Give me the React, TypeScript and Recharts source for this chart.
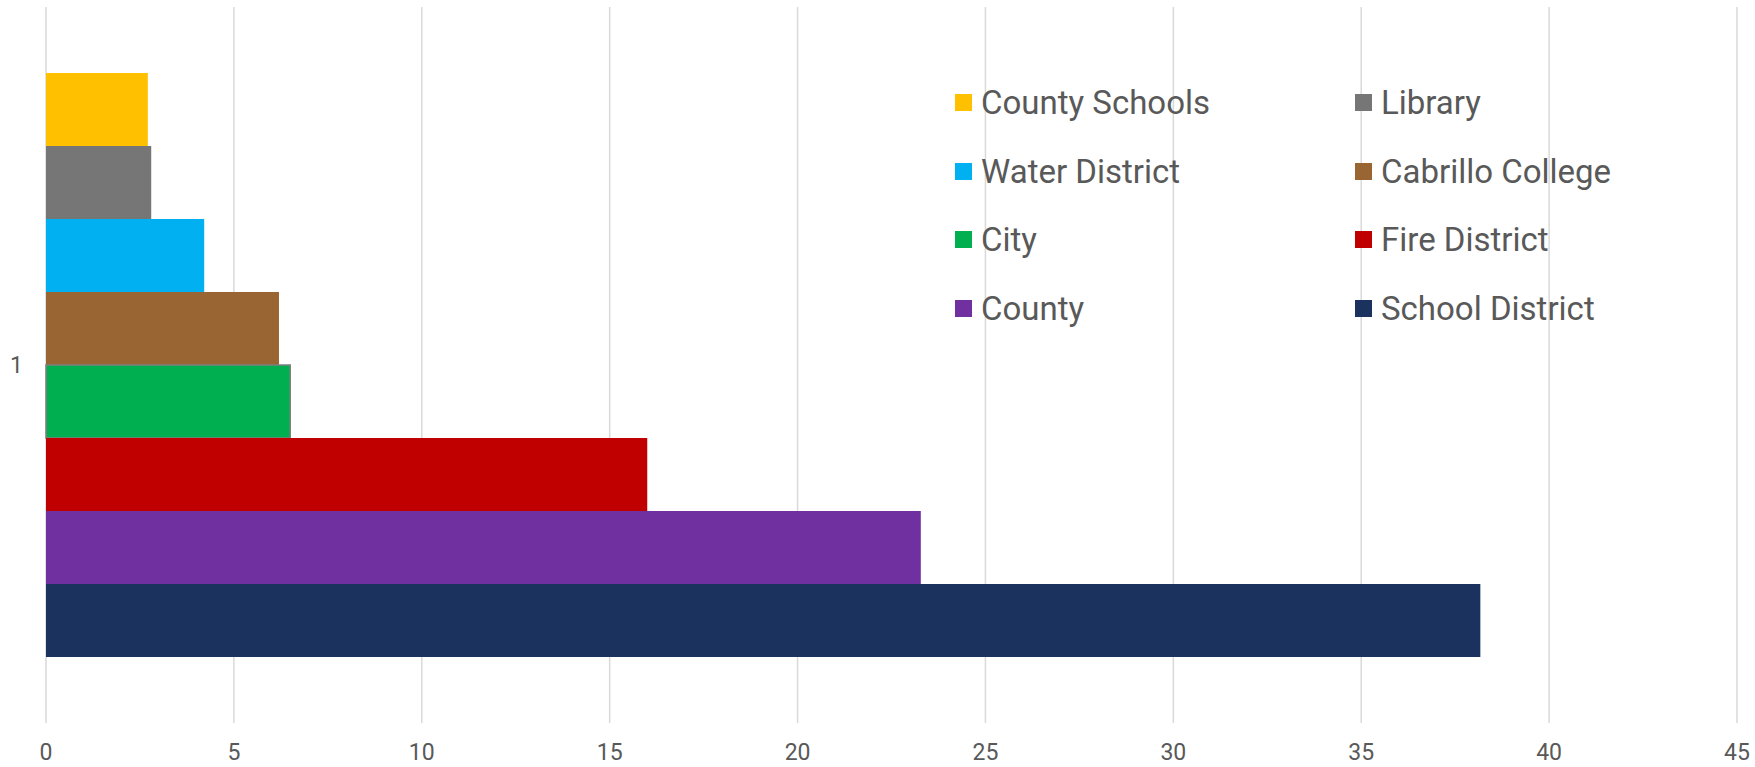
import React from 'react';
import { BarChart, Bar, XAxis, YAxis, CartesianGrid } from 'recharts';

const categories = ['1'];
const seriesNames = [
  'County Schools',
  'Library',
  'Water District',
  'Cabrillo College',
  'City',
  'Fire District',
  'County',
  'School District',
];
const seriesValues = [2.71, 2.8, 4.21, 6.2, 6.5, 16.0, 23.28, 38.17];
const seriesColors = [
  '#FFC000',
  '#767676',
  '#00B0F0',
  '#996633',
  '#00B050',
  '#C00000',
  '#7030A0',
  '#1B325F',
];
const xTicks = [0, 5, 10, 15, 20, 25, 30, 35, 40, 45];

const data = categories.map((name) => {
  const row: Record<string, string | number> = { name };
  seriesNames.forEach((s, i) => {
    row[s] = seriesValues[i];
  });
  return row;
});

const TEXT = '#595959';
const FONT = 'Roboto, "Noto Sans", sans-serif';

const ChartLegend = () => (
  <div
    style={{
      position: 'absolute',
      left: 955,
      top: 68,
      display: 'grid',
      gridTemplateColumns: '400px 400px',
      gridAutoRows: '68.7px',
      fontFamily: FONT,
      color: TEXT,
      pointerEvents: 'none',
    }}
  >
    {seriesNames.map((name, i) => (
      <div key={name} style={{ display: 'flex', alignItems: 'center' }}>
        <span
          style={{
            display: 'inline-block',
            width: 17,
            height: 17,
            background: seriesColors[i],
            marginRight: 9,
            flex: 'none',
          }}
        />
        <span style={{ fontSize: 33, lineHeight: 1, whiteSpace: 'nowrap' }}>{name}</span>
      </div>
    ))}
  </div>
);

export default function App() {
  return (
    <div style={{ position: 'absolute', left: 0, top: 0, width: 1755, height: 767, background: '#fff' }}>
      <BarChart
        width={1755}
        height={767}
        data={data}
        layout="vertical"
        margin={{ top: 7, right: 18, bottom: 0, left: 0 }}
        barCategoryGap={66}
        barGap={0}
      >
        <CartesianGrid horizontal={false} stroke="#d9d9d9" strokeWidth={1.5} />
        <XAxis
          type="number"
          domain={[0, 45]}
          ticks={xTicks}
          interval={0}
          axisLine={false}
          tickLine={false}
          tickSize={0}
          tickMargin={21}
          height={44}
          tick={{ fill: TEXT, fontSize: 23, fontFamily: FONT }}
        />
        <YAxis
          type="category"
          dataKey="name"
          axisLine={false}
          tickLine={false}
          tickSize={0}
          tickMargin={23}
          width={46}
          tick={{ fill: TEXT, fontSize: 23, fontFamily: FONT }}
        />
        {seriesNames.map((name, i) => (
          <Bar
            key={name}
            dataKey={name}
            fill={seriesColors[i]}
            stroke={name === 'City' ? '#7f7f7f' : undefined}
            strokeWidth={name === 'City' ? 1.5 : 0}
            isAnimationActive={false}
          />
        ))}
      </BarChart>
      <ChartLegend />
    </div>
  );
}
